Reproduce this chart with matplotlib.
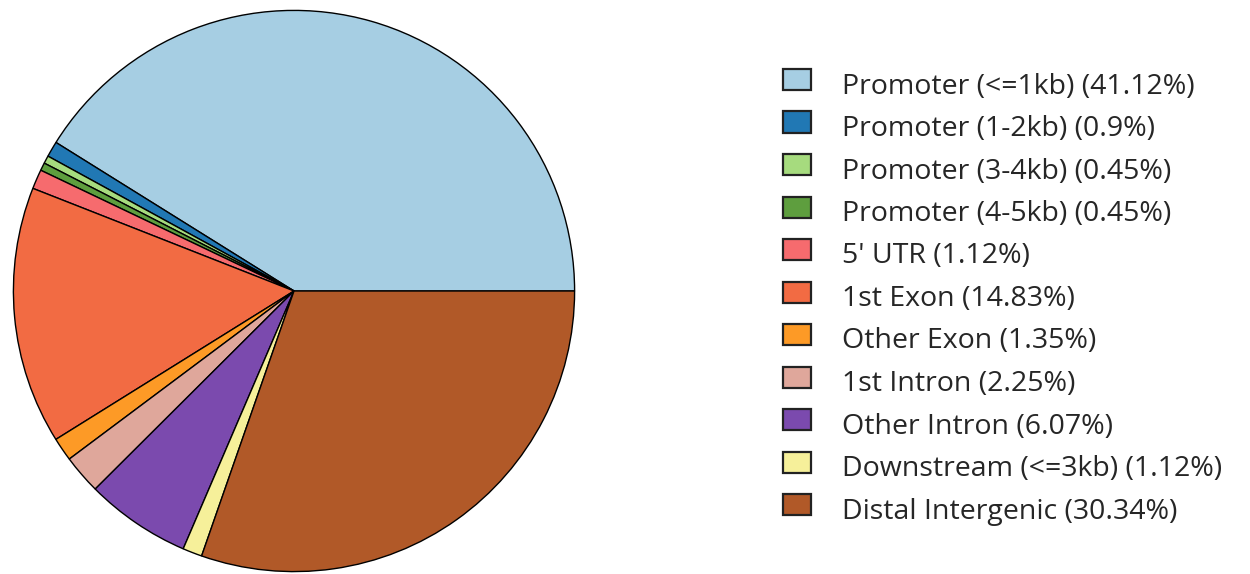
import matplotlib
matplotlib.use("Agg")
import matplotlib.pyplot as plt
from matplotlib.patches import Rectangle

labels = ["Promoter (<=1kb)", "Promoter (1-2kb)", "Promoter (3-4kb)", "Promoter (4-5kb)",
          "5' UTR", "1st Exon", "Other Exon", "1st Intron", "Other Intron",
          "Downstream (<=3kb)", "Distal Intergenic"]
values = [41.12, 0.9, 0.45, 0.45, 1.12, 14.83, 1.35, 2.25, 6.07, 1.12, 30.34]
value_text = ["41.12", "0.9", "0.45", "0.45", "1.12", "14.83", "1.35", "2.25", "6.07", "1.12", "30.34"]
colors = ["#A6CEE3", "#2178B4", "#A6DB7E", "#5E9E3E", "#F66B6E", "#F26B43",
          "#FD9A26", "#DFA79B", "#7B4AAE", "#F6F09A", "#B15928"]

plt.rcParams['font.family'] = ['Open Sans', 'DejaVu Sans']
fig = plt.figure(figsize=(12.5, 5.74), dpi=100)
W, H = 1250, 574
cx, cy, r = 294, 291, 282
ax = fig.add_axes([(cx - r) / W, (H - cy - r) / H, 2 * r / W, 2 * r / H])
ax.pie(values, colors=colors, startangle=0, counterclock=True, radius=1,
       wedgeprops=dict(edgecolor="black", linewidth=1.0))
ax.set_xlim(-1.005, 1.005)
ax.set_ylim(-1.005, 1.005)
ax.set_aspect('equal')
ax.axis('off')

# Legend drawn manually (pixel layout)
px, pw, ph = 783, 28, 21
tx = 842
y0, dy = 79.5, 42.5
for i, (lab, vt, c) in enumerate(zip(labels, value_text, colors)):
    yc = y0 + i * dy
    fig.patches.append(Rectangle((px / W, (H - yc - ph / 2) / H), pw / W, ph / H,
                                 transform=fig.transFigure, facecolor=c,
                                 edgecolor="#222222", linewidth=1.6))
    fig.text(tx / W, (H - yc - 14) / H, f"{lab} ({vt}%)", fontsize=20.5,
             color="#262626", ha="left", va="baseline")
fig.savefig("out.png", dpi=100)
